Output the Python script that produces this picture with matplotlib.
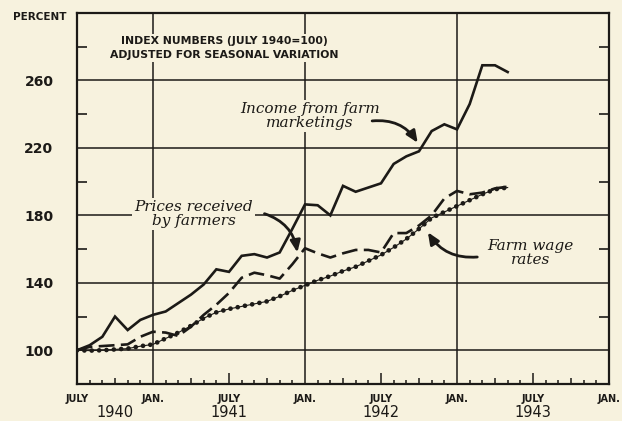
import matplotlib
matplotlib.use("Agg")
import matplotlib.pyplot as plt
import numpy as np

# ---- data (monthly, July 1940 = month 0) ----
months = list(range(35))
income = [100, 103, 108, 120, 112, 118, 121, 123, 128, 133, 139, 148, 146.5, 156, 157,
          155, 158, 172, 186.5, 186, 180, 197.5, 194, 196.5, 199, 210.5, 215, 218, 230,
          234, 231, 246, 269, 269, 265]
prices = [100, 102, 102.5, 103, 103.5, 108, 111, 110.5, 108.5, 114, 121, 127, 134, 143, 146,
          144.5, 142.5, 151, 160.5, 157.5, 155, 157.5, 159.5, 159.5, 158, 169.5, 169.5, 174, 180,
          190, 194.5, 192.5, 193.5, 196, 197]
wages = [100, 99.8, 100, 100.5, 101, 102.4, 103.5, 107, 110.5, 114.5, 119, 122.5, 124.5, 126,
         127.5, 129, 132, 135.5, 138.5, 141.5, 144, 147, 149.5, 153, 156.5, 161, 166, 172,
         178.5, 182, 185.5, 189, 192.5, 195.5, 196.5]

y_major = [100, 140, 180, 220, 260]
y_minor = [120, 160, 200, 240, 280]
x_label_pos = [0, 6, 12, 18, 24, 30, 36, 42]
x_labels = ["JULY", "JAN.", "JULY", "JAN.", "JULY", "JAN.", "JULY", "JAN."]
year_pos = [3, 12, 24, 36]
year_labels = ["1940", "1941", "1942", "1943"]
jan_lines = [6, 18, 30]

BG = "#f7f2de"
INK = "#1c1a17"

fig = plt.figure(figsize=(6.22, 4.21), dpi=100, facecolor=BG)
ax = fig.add_axes([0.1238, 0.0879, 0.8553, 0.8812], facecolor=BG)
ax.set_xlim(0, 42)
ax.set_ylim(80, 300)

# grid
for v in y_major:
    ax.axhline(v, color=INK, lw=1.1, zorder=1)
for m in jan_lines:
    ax.axvline(m, color=INK, lw=1.1, zorder=1)

# bottom month ticks (inward)
for m in range(1, 42):
    if m % 6 == 0:
        if m % 12 == 0:  # July
            ax.vlines(m, 80, 86.5, color=INK, lw=1.1, zorder=2)
        continue
    L = 3.8 if m % 3 == 0 else 2.4
    ax.vlines(m, 80, 80 + L, color=INK, lw=1.1, zorder=2)

for s in ax.spines.values():
    s.set_color(INK)
    s.set_linewidth(1.6)

ax.set_yticks(y_major)
ax.set_yticklabels([str(v) for v in y_major], fontsize=10, fontweight="bold", color=INK)
ax.set_yticks(y_minor, minor=True)
ax.tick_params(axis="y", which="major", length=0, pad=17)
ax.tick_params(axis="y", which="minor", direction="in", length=7, width=1.2,
               left=True, right=True, color=INK)
ax.set_xticks(x_label_pos)
ax.set_xticklabels(x_labels, fontsize=7, fontweight="bold", color=INK)
ax.tick_params(axis="x", which="major", length=0, pad=7)

trans = ax.get_xaxis_transform()
for p, lab in zip(year_pos, year_labels):
    ax.text(p, -0.078, lab, transform=trans, ha="center", va="center",
            fontsize=10.5, color=INK, clip_on=False)

fig.text(40 / 622, 1 - 17 / 421, "PERCENT", ha="center", va="center",
         fontsize=7.5, fontweight="bold", color=INK)

# data lines
ax.plot(months, income, color=INK, lw=1.9, zorder=5, solid_joinstyle="miter")
ax.plot(months, prices, color=INK, lw=1.9, zorder=5, dashes=(6, 2.4))
ax.plot(months, wages, color=INK, lw=0.8, zorder=5)
ax.plot(months, wages, color=INK, lw=3.4, zorder=5, linestyle=(0, (0.01, 1.55)),
        dash_capstyle="round")

box = dict(facecolor=BG, edgecolor="none", pad=1.5)

ax.text(11.6, 279.5, "INDEX NUMBERS (JULY 1940=100)\nADJUSTED FOR SEASONAL VARIATION",
        ha="center", va="center", fontsize=7.8, fontweight="bold", color=INK,
        linespacing=1.5, bbox=box, zorder=3)

serif = dict(family="DejaVu Serif", style="italic", fontsize=11, color=INK,
             ha="center", va="center", linespacing=1.0, bbox=box, zorder=3)
ax.text(18.4, 239, "Income from farm\nmarketings", **serif)
ax.text(9.2, 181, "Prices received\nby farmers", **serif)
ax.text(35.8, 157.6, "Farm wage\nrates", **serif)

arrow = dict(arrowstyle="-|>,head_length=0.7,head_width=0.3", color=INK, lw=2.0,
             shrinkA=0, shrinkB=0)
ax.annotate("", xy=(26.9, 223), xytext=(23.3, 236),
            arrowprops=dict(connectionstyle="arc3,rad=-0.3", **arrow), zorder=6)
ax.annotate("", xy=(17.4, 158), xytext=(14.8, 181),
            arrowprops=dict(connectionstyle="arc3,rad=-0.3", **arrow), zorder=6)
ax.annotate("", xy=(27.7, 170), xytext=(31.6, 155.3),
            arrowprops=dict(connectionstyle="arc3,rad=-0.3", **arrow), zorder=6)

fig.savefig("out.png", dpi=100, facecolor=BG)
